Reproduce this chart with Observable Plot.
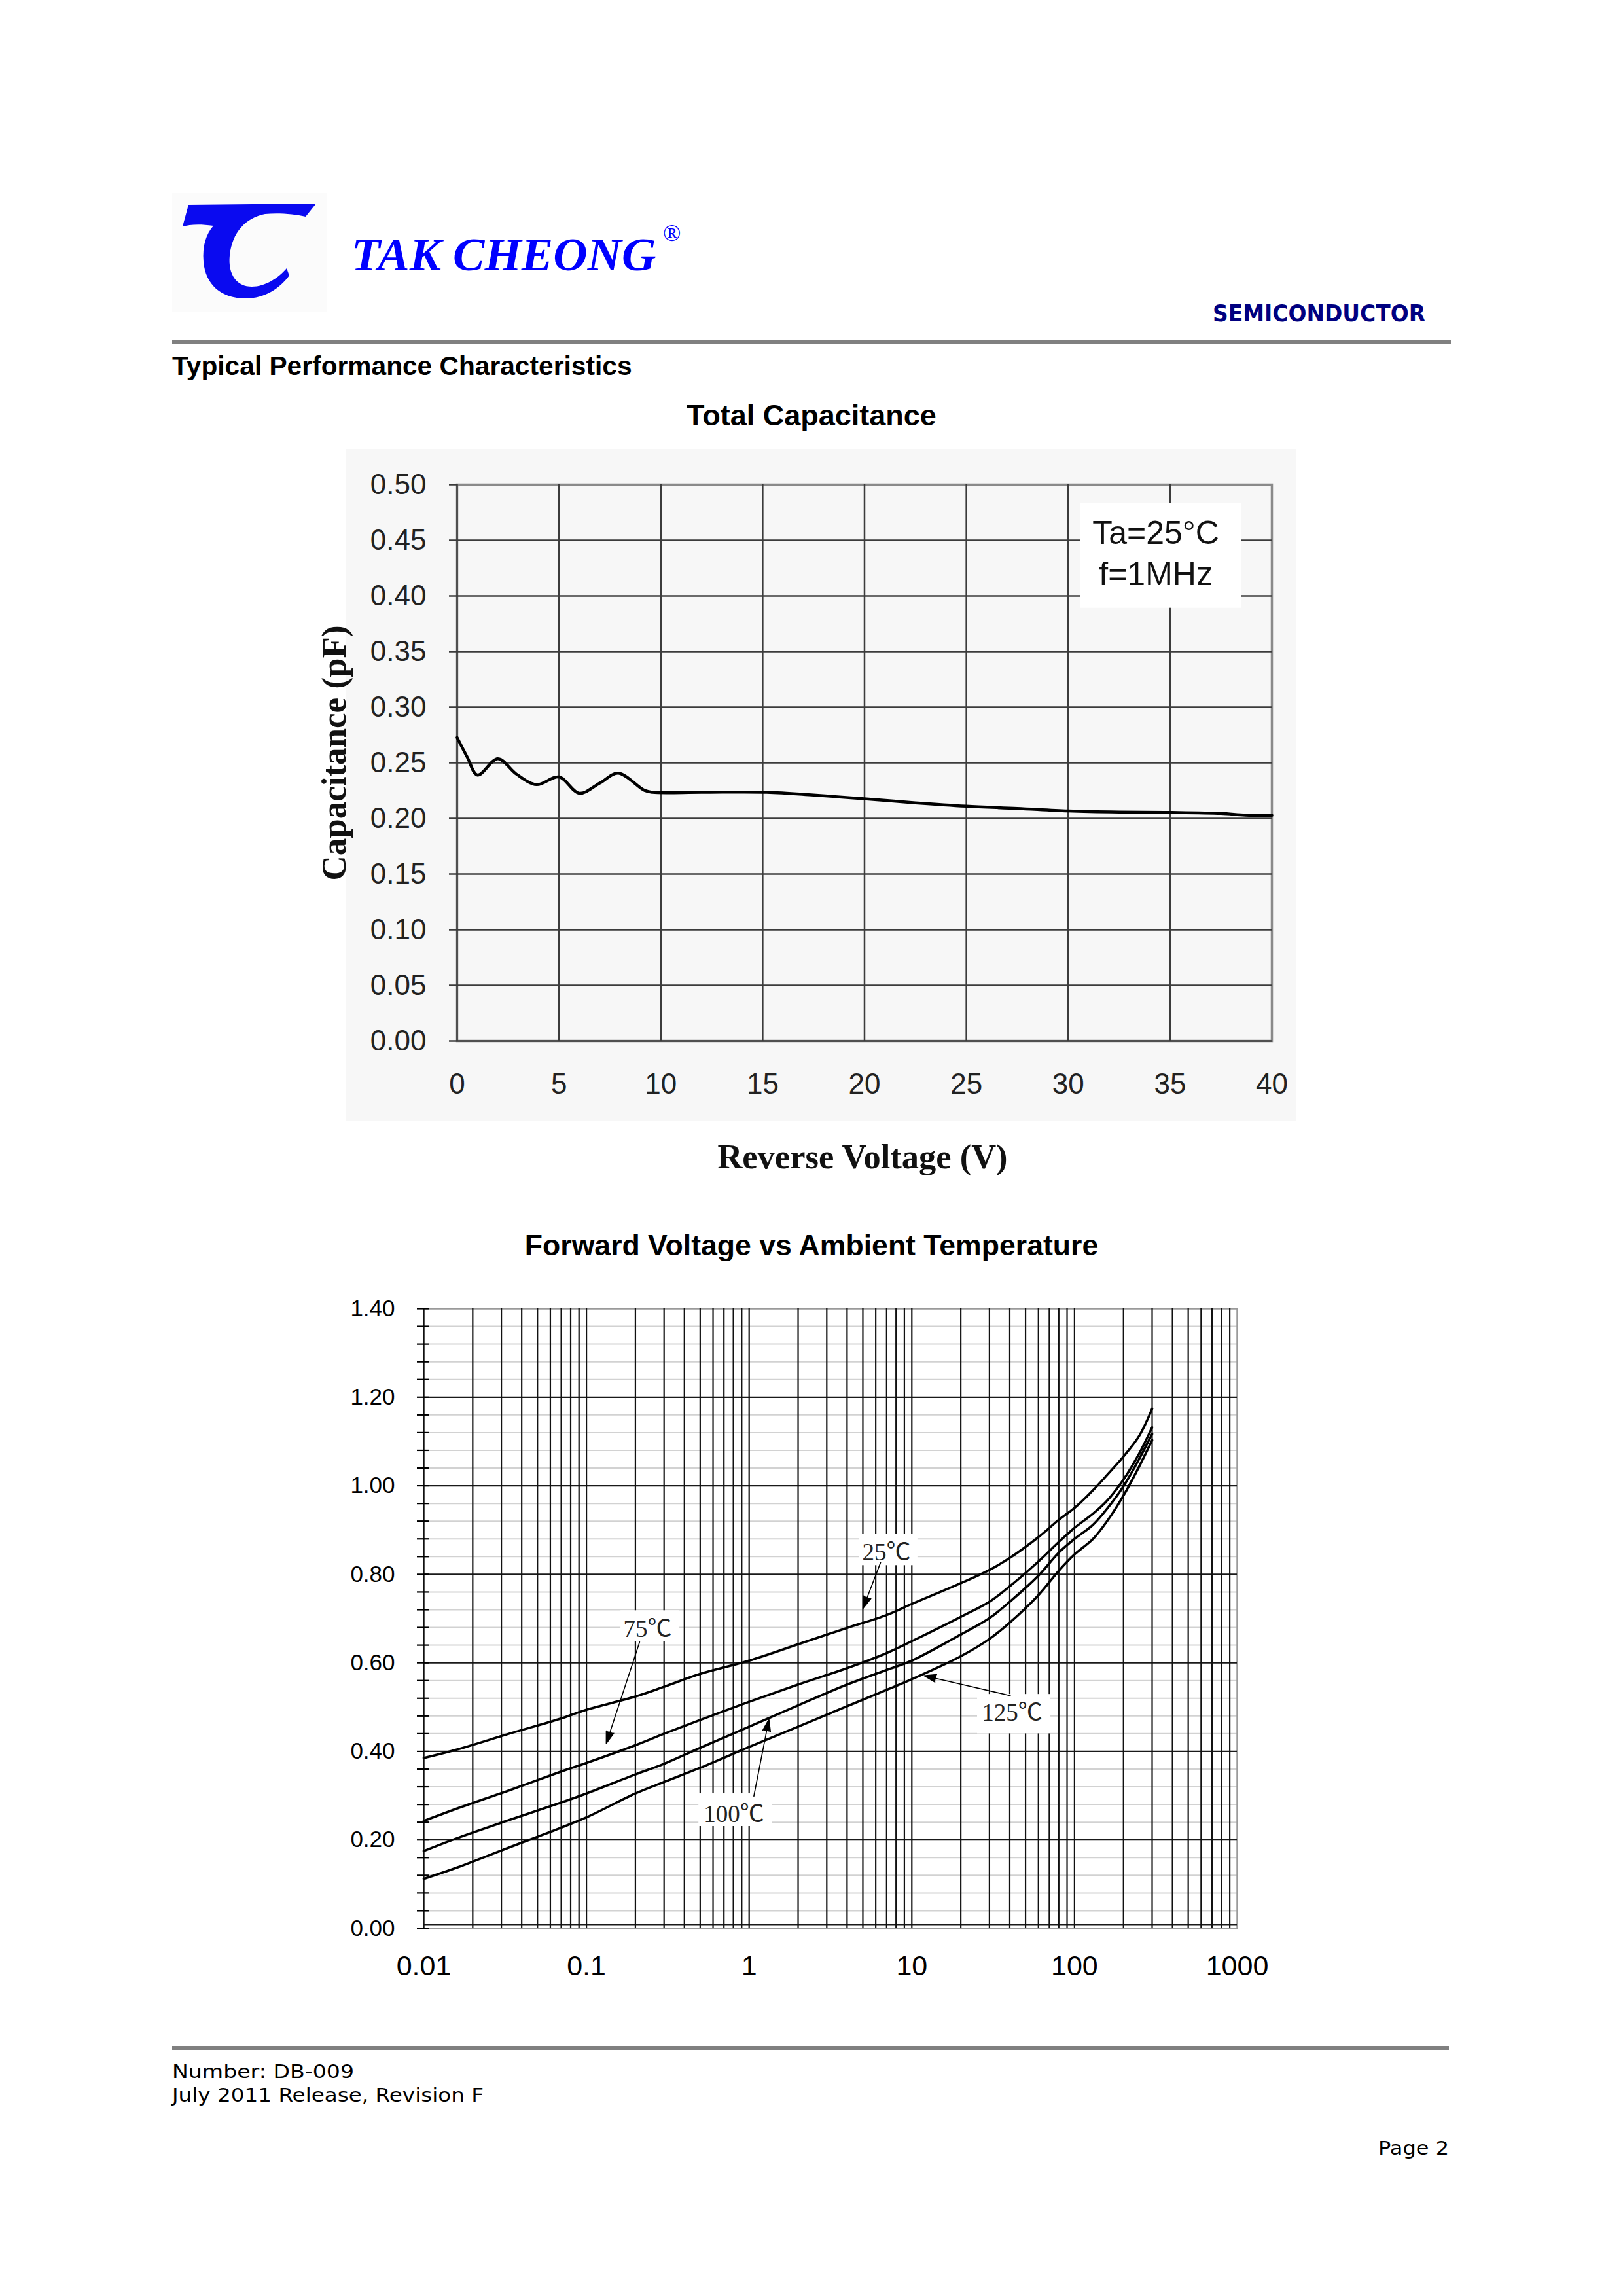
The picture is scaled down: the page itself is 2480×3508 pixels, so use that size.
<!DOCTYPE html>
<html>
<head>
<meta charset="utf-8">
<script src="https://cdn.jsdelivr.net/npm/d3@7"></script>
<script src="https://cdn.jsdelivr.net/npm/@observablehq/plot@0.6"></script>
<style>
  html, body { margin: 0; padding: 0; background: #fff; }
  #page { position: relative; width: 2480px; height: 3508px; overflow: hidden; background: #fff; }
  #deco { position: absolute; left: 0; top: 0; }
  #bg1 { position: absolute; left: 528px; top: 686px; width: 1452px; height: 1026px; background: #f7f7f7; }
  #c1 { position: absolute; left: 460px; top: 686px; }
  #c2 { position: absolute; left: 520px; top: 1960px; }
  #c1 svg, #c2 svg { overflow: visible; }
</style>
</head>
<body>
<div id="page">
  <svg id="deco" width="2480" height="3508" xmlns="http://www.w3.org/2000/svg">
    <rect x="263" y="295" width="236" height="182" fill="#fbfbfb"/>
    <path d="M288,313 L483,311 L467,331 C450,327 425,325 405,327 C375,333 355,355 351,390 C348,420 362,438 385,438 C405,438 425,425 438,410 L442,421 C428,440 405,456 375,456 C338,456 314,435 311,400 C309,375 315,358 326,345 C305,342 290,343 279,346 Z" fill="#0a0af0"/>
    <text x="537" y="413" font-family="Liberation Serif, serif" font-style="italic" font-weight="bold" font-size="72.5" fill="#0000ff">TAK CHEONG</text>
    <text x="1013" y="368" font-family="Liberation Serif, serif" font-size="36" fill="#0000ff">®</text>
    <text x="2178" y="491" text-anchor="end" font-family="DejaVu Sans, sans-serif" font-weight="bold" font-size="35" fill="#000080" textLength="325" lengthAdjust="spacingAndGlyphs">SEMICONDUCTOR</text>
    <rect x="263" y="520" width="1954" height="6" fill="#808080"/>
    <text x="263" y="573" font-family="Liberation Sans, Arial, sans-serif" font-weight="bold" font-size="40.7" fill="#000">Typical Performance Characteristics</text>
    <text x="1240" y="650" text-anchor="middle" font-family="Liberation Sans, Arial, sans-serif" font-weight="bold" font-size="45" fill="#000">Total Capacitance</text>
    <text x="1240" y="1918" text-anchor="middle" font-family="Liberation Sans, Arial, sans-serif" font-weight="bold" font-size="44.6" fill="#000">Forward Voltage vs Ambient Temperature</text>
    <rect x="263" y="3126" width="1951" height="6" fill="#808080"/>
    <text x="263" y="3175" font-family="DejaVu Sans, Verdana, sans-serif" font-size="29" fill="#000" textLength="278" lengthAdjust="spacingAndGlyphs">Number: DB-009</text>
    <text x="263" y="3211" font-family="DejaVu Sans, Verdana, sans-serif" font-size="29" fill="#000" textLength="476" lengthAdjust="spacingAndGlyphs">July 2011 Release, Revision F</text>
    <text x="2214" y="3292" text-anchor="end" font-family="DejaVu Sans, Verdana, sans-serif" font-size="29" fill="#000" textLength="108" lengthAdjust="spacingAndGlyphs">Page 2</text>
  </svg>
  <div id="bg1"></div>
  <div id="c1"></div>
  <div id="c2"></div>
</div>
<script>
// ---------- Chart 1: Total Capacitance ----------
const capVoltage = [0, 0.5, 1, 2, 2.9, 3.9, 5, 6, 7, 7.9, 9.2, 9.6, 12, 15.2, 17.5, 20.1, 22.5, 25, 27.5, 30, 32.5, 35.1, 37.5, 38.7, 40];
const capValue   = [0.2726, 0.255, 0.239, 0.2537, 0.240, 0.2304, 0.2373, 0.2227, 0.2317, 0.2407, 0.2252, 0.2235, 0.2235, 0.2235, 0.221, 0.2175, 0.214, 0.211, 0.209, 0.2067, 0.2057, 0.2054, 0.2045, 0.2030, 0.2028];
const capXTickLabels = ["0", "5", "10", "15", "20", "25", "30", "35", "40"];
const capYTickLabels = ["0.00", "0.05", "0.10", "0.15", "0.20", "0.25", "0.30", "0.35", "0.40", "0.45", "0.50"];
const capNoteLines = ["Ta=25°C", "f=1MHz"];
const capNoteX = [34.3, 34.3];
const capNoteY = [0.447, 0.410];
const capNoteBox = [{x1: 30.6, x2: 38.5, y1: 0.389, y2: 0.4835}];

// ---------- Chart 2: Forward Voltage vs Ambient Temperature ----------
const fvCurrent = [0.01, 0.0163, 0.0335, 0.068, 0.1, 0.2, 0.3, 0.5, 1, 2, 4, 7, 10, 20, 30, 40, 60, 80, 100, 130, 160, 200, 250, 300];
const fv25  = [0.385, 0.405, 0.440, 0.473, 0.494, 0.524, 0.546, 0.575, 0.605, 0.642, 0.679, 0.708, 0.733, 0.780, 0.810, 0.837, 0.884, 0.923, 0.950, 0.990, 1.026, 1.066, 1.113, 1.174];
const fv75  = [0.243, 0.272, 0.312, 0.353, 0.374, 0.414, 0.440, 0.471, 0.512, 0.551, 0.588, 0.622, 0.649, 0.704, 0.738, 0.773, 0.829, 0.873, 0.905, 0.937, 0.968, 1.014, 1.073, 1.132];
const fv100 = [0.175, 0.205, 0.245, 0.283, 0.305, 0.348, 0.372, 0.408, 0.456, 0.504, 0.551, 0.584, 0.605, 0.664, 0.701, 0.738, 0.797, 0.849, 0.880, 0.912, 0.950, 0.999, 1.061, 1.117];
const fv125 = [0.112, 0.1385, 0.183, 0.226, 0.251, 0.305, 0.331, 0.363, 0.410, 0.456, 0.502, 0.539, 0.563, 0.615, 0.654, 0.691, 0.753, 0.808, 0.845, 0.880, 0.922, 0.978, 1.044, 1.103];
const fvSeriesNames = ["25℃", "75℃", "100℃", "125℃"];
const fvXTickLabels = ["0.01", "0.1", "1", "10", "100", "1000"];
const fvYTickLabels = ["0.00", "0.20", "0.40", "0.60", "0.80", "1.00", "1.20", "1.40"];
const fvLabelX = [6.98, 0.2375, 0.807, 41.3];
const fvLabelY = [0.832, 0.659, 0.2395, 0.470];
const fvBoxX1 = [4.775, 0.1626, 0.49, 25.3];
const fvBoxX2 = [10.88, 0.3705, 1.39, 71.4];
const fvBoxY1 = [0.820, 0.649, 0.2306, 0.440];
const fvBoxY2 = [0.891, 0.718, 0.3045, 0.529];
const fvArrowX1 = [6.43, 0.2123, 1.069, 40.3];
const fvArrowY1 = [0.827, 0.647, 0.299, 0.526];
const fvArrowX2 = [5.01, 0.1324, 1.323, 11.9];
const fvArrowY2 = [0.723, 0.418, 0.4726, 0.571];

// ---------- build chart 1 ----------
const capData = capVoltage.map((v, i) => ({v, c: capValue[i]}));
const capXT = capXTickLabels.map(Number);
const capYT = capYTickLabels.map(Number);
const capNotes = capNoteLines.map((t, i) => ({t, x: capNoteX[i], y: capNoteY[i]}));

const chart1 = Plot.plot({
  width: 1520, height: 1026,
  marginLeft: 238, marginRight: 37, marginTop: 54, marginBottom: 122,
  x: {domain: [0, 40]},
  y: {domain: [0, 0.5]},
  style: {background: "transparent", color: "#222", fontFamily: "Liberation Sans, Arial, sans-serif", overflow: "visible"},
  marks: [
    Plot.frame({stroke: "#8a8a8a", strokeWidth: 3.5}),
    Plot.ruleX(capXT.slice(0, -1), {stroke: "#3c3c3c", strokeWidth: 2.5}),
    Plot.ruleY(capYT.slice(0, -1), {stroke: "#3c3c3c", strokeWidth: 2.5}),
    Plot.rect(capNoteBox, {x1: "x1", x2: "x2", y1: "y1", y2: "y2", fill: "white"}),
    Plot.text(capNotes, {x: "x", y: "y", text: "t", fontSize: 50, lineAnchor: "bottom", textAnchor: "middle", fill: "#111"}),
    Plot.line(capData, {x: "v", y: "c", stroke: "#000", strokeWidth: 4.5, curve: "catmull-rom"}),
    Plot.axisY({ticks: capYT, tickSize: 12, tickPadding: 35, stroke: "#3c3c3c", strokeWidth: 2.5, fontSize: 44, fill: "#222",
      tickFormat: d => capYTickLabels[capYT.indexOf(d)], label: null}),
    Plot.axisX({ticks: capXT, tickSize: 0, tickPadding: 49, fontSize: 44, fill: "#222",
      tickFormat: d => capXTickLabels[capXT.indexOf(d)], label: null}),
    Plot.text(["Reverse Voltage (V)"], {frameAnchor: "bottom", dy: 194, dx: -3, lineAnchor: "bottom", textAnchor: "middle", fontFamily: "Liberation Serif, Times New Roman, serif", fontWeight: "bold", fontSize: 52.5, fill: "#111"}),
    Plot.text(["Capacitance (pF)"], {frameAnchor: "left", rotate: -90, dx: -171, dy: -15, lineAnchor: "bottom", textAnchor: "middle", fontFamily: "Liberation Serif, Times New Roman, serif", fontWeight: "bold", fontSize: 53, fill: "#111"})
  ]
});
document.getElementById("c1").appendChild(chart1);

// ---------- build chart 2 ----------
const fvSeries = [fv25, fv75, fv100, fv125];
const fvData = fvSeries.flatMap((s, k) => s.map((y, i) => ({x: fvCurrent[i], y, series: fvSeriesNames[k]})));
const fvXT = fvXTickLabels.map(Number);
const fvYT = fvYTickLabels.map(Number);
// log grid lines 1..9 per decade
const fvXGrid = [];
fvXT.slice(0, -1).forEach(d => { for (let k = 1; k <= 9; k++) fvXGrid.push(+(k * d).toPrecision(3)); });
const fvYMinor = d3.range(0, 36).map(i => +(i * 0.04).toFixed(2));
const fvYMinorOnly = fvYMinor.filter(v => !fvYT.some(m => Math.abs(m - v) < 1e-9));
const fvAnn = fvSeriesNames.map((t, i) => ({
  t, lx: fvLabelX[i], ly: fvLabelY[i],
  bx1: fvBoxX1[i], bx2: fvBoxX2[i], by1: fvBoxY1[i], by2: fvBoxY2[i],
  ax1: fvArrowX1[i], ay1: fvArrowY1[i], ax2: fvArrowX2[i], ay2: fvArrowY2[i]
}));

const chart2 = Plot.plot({
  width: 1420, height: 1100,
  marginLeft: 127, marginRight: 50, marginTop: 39, marginBottom: 114,
  x: {type: "log", domain: [0.01, 1000]},
  y: {domain: [0, 1.4]},
  style: {background: "transparent", color: "#000", fontFamily: "Liberation Sans, Arial, sans-serif", overflow: "visible"},
  marks: [
    Plot.ruleY(fvYMinorOnly, {stroke: "#d2d2d2", strokeWidth: 2}),
    Plot.frame({stroke: "#9a9a9a", strokeWidth: 2.5}),
    Plot.ruleY(fvYT.slice(1, -1), {stroke: "#1a1a1a", strokeWidth: 2.2}),
    Plot.ruleY([0], {stroke: "#1a1a1a", strokeWidth: 2.2, dy: -6}),
    Plot.ruleX(fvXGrid, {stroke: "#111", strokeWidth: 2.2}),
    Plot.rect(fvAnn, {x1: "bx1", x2: "bx2", y1: "by1", y2: "by2", fill: "white"}),
    Plot.line(fvData, {x: "x", y: "y", z: "series", stroke: "#000", strokeWidth: 3.6, curve: "catmull-rom"}),
    Plot.arrow(fvAnn, {x1: "ax1", y1: "ay1", x2: "ax2", y2: "ay2", stroke: "#000", fill: "#000", strokeWidth: 1.6, headLength: 18, headAngle: 36}),
    Plot.text(fvAnn, {x: "lx", y: "ly", text: "t", lineAnchor: "bottom", textAnchor: "middle", fontSize: 37, fontFamily: "Liberation Serif, Noto Sans CJK SC, serif", fill: "#222"}),
    Plot.axisY({ticks: fvYMinor, tickSize: 19, dx: 9, tickPadding: 34, stroke: "#000", strokeWidth: 2.2, fontSize: 35, fill: "#000",
      tickFormat: d => { const j = fvYT.findIndex(m => Math.abs(m - d) < 1e-9); return j >= 0 ? fvYTickLabels[j] : ""; }, label: null}),
    Plot.axisX({ticks: fvXT, tickSize: 0, tickPadding: 40.5, fontSize: 43, fill: "#000",
      tickFormat: d => fvXTickLabels[fvXT.indexOf(d)], label: null})
  ]
});
document.getElementById("c2").appendChild(chart2);
</script>
</body>
</html>
